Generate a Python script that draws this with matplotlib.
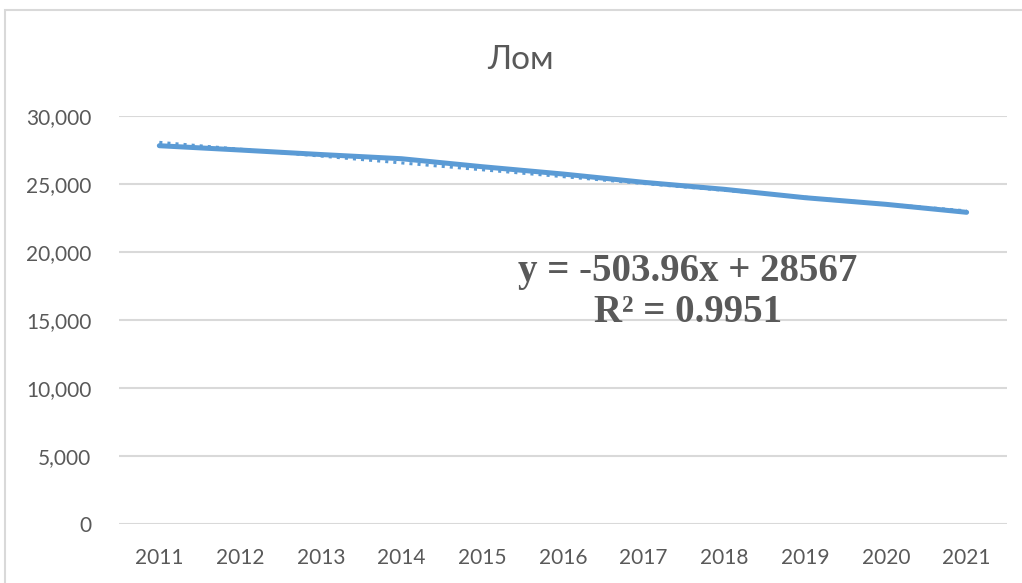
import matplotlib
matplotlib.use("Agg")
from matplotlib import pyplot as plt
from matplotlib.patches import Rectangle
import numpy as np

# Datos
anios = ['2011', '2012', '2013', '2014', '2015', '2016', '2017', '2018', '2019', '2020', '2021']
lom = [27816, 27500, 27169, 26860, 26272, 25735, 25125, 24610, 23993, 23507, 22919]
pendiente = -503.96
intercepto = 28567
r2 = 0.9951

azul = '#5B9BD5'
gris_texto = '#595959'
gris_linea = '#D9D9D9'

plt.rcParams['font.family'] = ['Lato', 'DejaVu Sans']

fig = plt.figure(figsize=(10.22, 5.83), dpi=100)
ax = fig.add_axes([0.1164, 0.1012, 0.8689, 0.6998])

# Borde del área del gráfico
fig.patches.append(Rectangle((5 / 1022, -0.1), 1.2, 1 - 10 / 583 + 0.1, transform=fig.transFigure,
                             fill=False, edgecolor=gris_linea, linewidth=1.5))

x = np.arange(len(anios))
# Línea de tendencia (punteada)
tendencia = pendiente * (x + 1) + intercepto
ax.plot(x, tendencia, linestyle=':', color=azul, linewidth=2.2, zorder=2)
# Serie principal
ax.plot(x, lom, color=azul, linewidth=3.6, solid_capstyle='round', zorder=3)

ax.set_xlim(-0.5, len(anios) - 0.5)
ax.set_ylim(0, 30000)
ax.set_yticks(np.arange(0, 30001, 5000))
ax.set_yticklabels(['0' if v == 0 else f'{v:,}' for v in range(0, 30001, 5000)])
ax.set_xticks(x)
ax.set_xticklabels(anios)
ax.grid(axis='y', color=gris_linea, linewidth=1.5)
ax.set_axisbelow(True)
for s in ax.spines.values():
    s.set_visible(False)
ax.tick_params(length=0, labelsize=15, colors=gris_texto)
ax.tick_params(axis='y', pad=20)
ax.tick_params(axis='x', pad=17)

fig.text(0.509, 0.897, 'Лом', ha='center', va='center', fontsize=24, color=gris_texto)

ax.text(6.55, 17050, f'y = {pendiente}x + {intercepto}\nR² = {r2}', ha='center', va='center',
        fontsize=28, fontweight='bold', family='Liberation Serif', color=gris_texto,
        linespacing=1.15)

plt.savefig('out.png', dpi=100)
